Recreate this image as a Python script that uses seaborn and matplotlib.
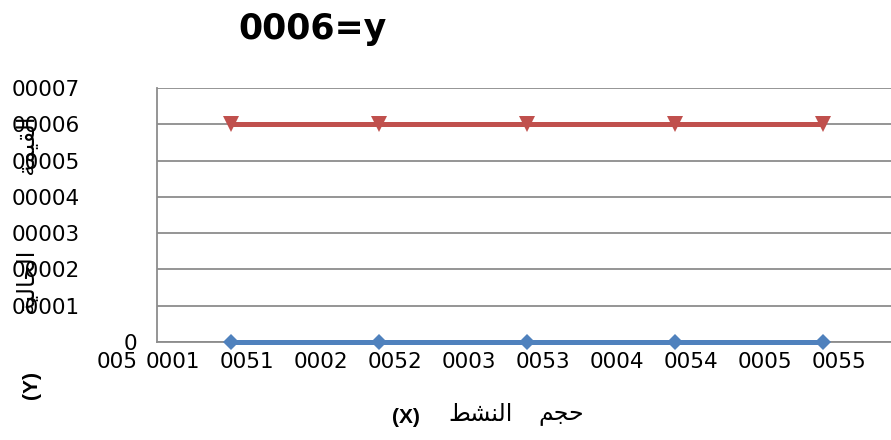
import matplotlib
matplotlib.use("Agg")
import matplotlib.pyplot as plt
import matplotlib.transforms as mtransforms
import pandas as pd
import seaborn as sns

# Series values
x_values = [1500, 2500, 3500, 4500, 5500]
present_values = [60000, 60000, 60000, 60000, 60000]
base_values = [0, 0, 0, 0, 0]

# Axis ticks and their (mirrored) labels
x_ticks = [1000, 1500, 2000, 2500, 3000, 3500, 4000, 4500, 5000, 5500]
x_tick_labels = ["0001", "0051", "0002", "0052", "0003", "0053", "0004", "0054", "0005", "0055"]
x_first_label = "005"
y_ticks = [0, 10000, 20000, 30000, 40000, 50000, 60000, 70000]
y_tick_labels = ["0", "00001", "00002", "00003", "00004", "00005", "00006", "00007"]

title_text = "0006=y"
# Arabic words in presentation forms, written in display order
x_label_ar_1 = "\uFEC2\uFEB8\uFEE8\uFEDF\uFE8D"          # النشط
x_label_ar_2 = "\uFEE2\uFEA0\uFEA3"                      # حجم
y_label_ar = ("\uFE94\uFEF4\uFEDF\uFE8E\uFEA4\uFEDF\uFE8D"   # الحالية
              + "          "
              + "\uFE94\uFEE4\uFEF4\uFED8\uFEDF\uFE8D")      # القيمة
x_label_sym = "(X)"
y_label_sym = "(Y)"

RED = "#C0504D"
BLUE = "#4F81BD"
GRID = "#8C8C8C"

sns.set_style("white")
plt.rcParams["font.family"] = ["DejaVu Sans"]
plt.rcParams["text.color"] = "black"

W, H, DPI = 891, 440, 100
fig = plt.figure(figsize=(W / DPI, H / DPI), dpi=DPI)
ax = fig.add_axes([157 / W, 1 - 342 / H, (W - 157) / W, (342 - 88) / H])

df_top = pd.DataFrame({"x": x_values, "y": present_values})
df_base = pd.DataFrame({"x": x_values, "y": base_values})

sns.lineplot(data=df_base, x="x", y="y", ax=ax, color=BLUE, linewidth=3.6,
             marker="D", markersize=8, markeredgewidth=0, zorder=4, clip_on=False)
sns.lineplot(data=df_top, x="x", y="y", ax=ax, color=RED, linewidth=3.6,
             marker="v", markersize=11, markeredgewidth=0, zorder=4)

ax.set_xlim(1000, 1000 + (W - 157) / 148.0 * 1000)
ax.set_ylim(0, 70000)
ax.set_xticks(x_ticks)
ax.set_xticklabels(x_tick_labels)
ax.set_yticks(y_ticks)
ax.set_yticklabels(y_tick_labels)
ax.set_xlabel("")
ax.set_ylabel("")

ax.grid(axis="y", color=GRID, linewidth=1.3)
ax.grid(axis="x", visible=False)
ax.set_axisbelow(True)
for side in ["top", "right"]:
    ax.spines[side].set_visible(False)
ax.spines["left"].set_color(GRID)
ax.spines["left"].set_linewidth(1.3)
ax.spines["bottom"].set_color(GRID)
ax.spines["bottom"].set_linewidth(1.3)

ax.tick_params(axis="both", length=0, labelsize=15.5, colors="black")
ax.tick_params(axis="x", pad=7.5)
ax.tick_params(axis="y", pad=104.4)

# x labels sit slightly right of their ticks
shift_x = mtransforms.ScaledTranslation(16 / DPI, 0, fig.dpi_scale_trans)
for lbl in ax.get_xticklabels():
    lbl.set_transform(lbl.get_transform() + shift_x)

# y labels start at the left margin; the zero label hugs the axis
for lbl, val in zip(ax.get_yticklabels(), y_ticks):
    if val == 0:
        lbl.set_ha("right")
        lbl.set_transform(lbl.get_transform()
                          + mtransforms.ScaledTranslation(125 / DPI, 0, fig.dpi_scale_trans))
    else:
        lbl.set_ha("left")

fig.text(117 / W, 1 - 362 / H, x_first_label, ha="center", va="center", fontsize=15.5,
         color="black")

# Title
fig.text(313 / W, 1 - 39 / H, title_text, ha="center", va="baseline",
         fontsize=25, fontweight="bold", color="black")

# Axis titles
fig.text(406 / W, 1 - 417 / H, x_label_sym, ha="center", va="center",
         fontsize=15, fontweight="bold", family=["Liberation Sans", "DejaVu Sans"],
         color="black")
fig.text(481 / W, 1 - 414 / H, x_label_ar_1, ha="center", va="center", fontsize=17,
         color="black")
fig.text(561 / W, 1 - 414 / H, x_label_ar_2, ha="center", va="center", fontsize=17,
         color="black")

fig.text(32 / W, 1 - 385 / H, y_label_sym, ha="center", va="center", rotation=90,
         fontsize=15, fontweight="bold", family=["Liberation Sans", "DejaVu Sans"],
         color="black")
fig.text(28 / W, 1 - 215 / H, y_label_ar, ha="center", va="center", rotation=90,
         fontsize=17, color="black")

fig.savefig("out.png", dpi=DPI)
